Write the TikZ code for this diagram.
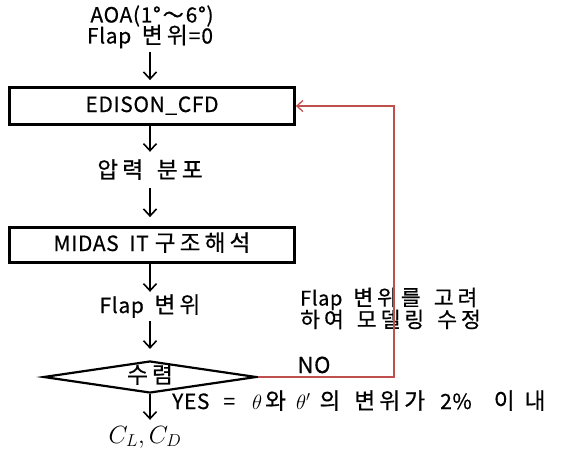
\documentclass[tikz,border=0pt]{standalone}
\usepackage{fontspec}
\setmainfont{Noto Sans CJK KR}[WordSpace=2, LetterSpace=3, FakeBold=0.5]
\newfontfamily\kr{Noto Sans CJK KR}[Scale=1.08, LetterSpace=18, WordSpace=1.5, FakeBold=0.5]
\newcommand{\K}[1]{{\kr #1}}
\usetikzlibrary{arrows.meta,shapes.geometric}
\definecolor{redline}{RGB}{192,80,77}
\begin{document}
\begin{tikzpicture}[x=1pt,y=-1pt,
  txt/.style={inner sep=0pt, text height=15pt, text depth=3pt, font=\fontsize{21}{24}\selectfont},
  box/.style={draw, line width=2.8pt, minimum width=285pt, inner sep=0pt, txt},
  arr/.style={line width=1.8pt, -{Straight Barb[length=7pt,width=13pt,line width=1.6pt]}},
  fb/.style={draw=redline, line width=1.3pt, -{Straight Barb[length=6pt,width=11pt]}}
]
\useasboundingbox (0,0) rectangle (577,452);
\fill[white] (0,0) rectangle (577,452);

\node[txt, text height=13pt, text depth=2pt] (aoa) at (152,17) {AOA(1°\hspace{2pt}\char"FF5E\hspace{2pt}6°)};
\node[txt, text height=13pt, text depth=2pt] (flap0) at (150,38) {Flap \K{변위}\hspace{1pt}=\hspace{1pt}0};
\node[box, minimum height=37pt] (edison) at (152,106) {EDISON\_CFD};
\node[txt] (press) at (150,172) {\K{압력 분포}};
\node[box, minimum height=35pt] (midas) at (152,245) {MIDAS IT\hspace{6pt}\K{구조해석}};
\node[txt] (flapd) at (150,307) {Flap \K{변위}};
\node[txt, draw, diamond, line width=2.2pt, aspect=6.5, minimum width=213pt, minimum height=32pt] (dec) at (150,377) {\K{수렴}};
\node[txt, font=\fontsize{24}{26}\selectfont] (cl) at (145,437) {$C_L, C_D$};

\node[txt, font=\fontsize{22}{24}\selectfont] (no) at (314,367) {NO};
\node[txt, anchor=west, text height=13pt, text depth=2pt, font=\fontsize{20}{22}\selectfont] (mod1) at (300,300) {Flap\hspace{11pt}\K{변위를}\hspace{13pt}\K{고려}};
\node[txt, anchor=west, text height=13pt, text depth=2pt, font=\fontsize{20}{22}\selectfont] (mod2) at (300,322) {\K{하여}\hspace{13pt}\K{모델링}\hspace{13pt}\K{수정}};
\node[txt, anchor=west] (yes) at (172,403) {YES\hspace{14pt}=\hspace{17pt}$\theta$\hspace{3pt}\K{와}\hspace{10pt}$\theta'$\hspace{9pt}\K{의}\hspace{14pt}\K{변위가}\hspace{15pt}2\%\hspace{22pt}\K{이}\hspace{10pt}\K{내}};

\draw[arr, shorten <=6pt, shorten >=6pt] (flap0.south) -- (edison.north -| flap0.south);
\draw[arr, shorten >=11pt] (edison.south -| press.north) -- (press.north);
\draw[arr, shorten <=7pt, shorten >=9pt] (press.south) -- (midas.north -| press.south);
\draw[arr, shorten >=6pt] (midas.south -| flapd.north) -- (flapd.north);
\draw[arr, shorten <=5pt, shorten >=11pt] (flapd.south) -- (dec.north);
\draw[arr, shorten >=8pt] (dec.south) -- (cl.north -| dec.south);

\coordinate (fbc) at (394,377);
\draw[fb] (dec.east) -- (fbc) |- (edison.east);
\end{tikzpicture}
\end{document}
